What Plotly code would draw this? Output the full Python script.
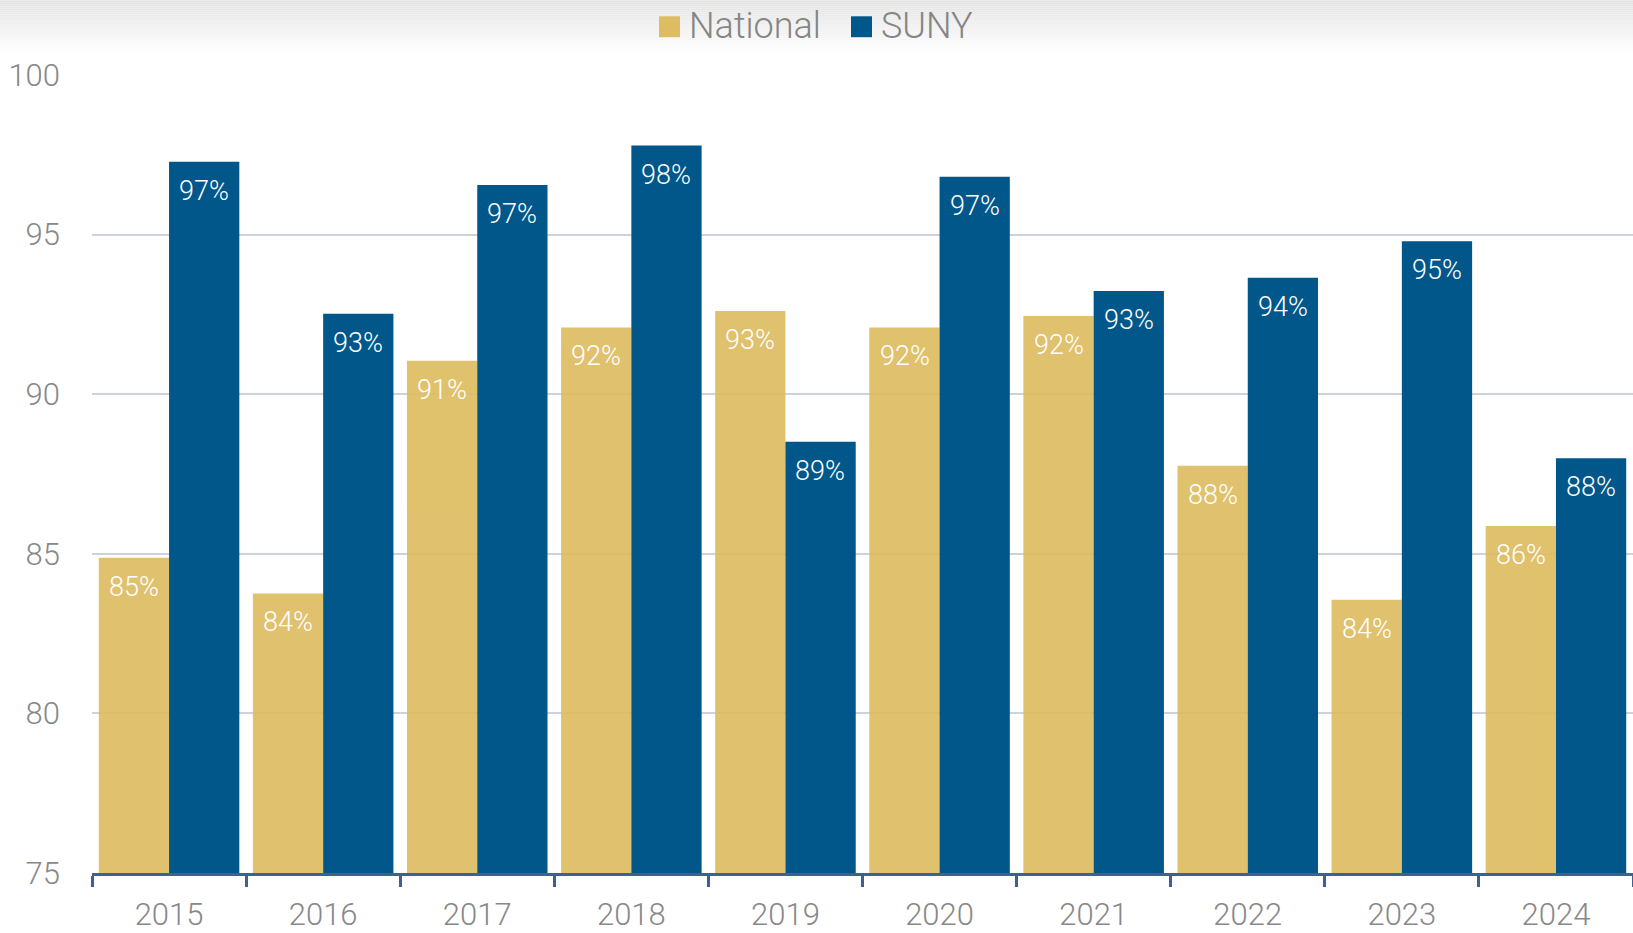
import plotly.graph_objects as go

years = ["2015", "2016", "2017", "2018", "2019", "2020", "2021", "2022", "2023", "2024"]
series_names = ["National", "SUNY"]
national = [84.88, 83.76, 91.05, 92.09, 92.61, 92.09, 92.45, 87.76, 83.56, 85.87]
suny = [97.28, 92.52, 96.55, 97.79, 88.51, 96.81, 93.23, 93.65, 94.79, 87.99]
y_ticks = [75, 80, 85, 90, 95, 100]

GOLD = "#DEBD62"
BLUE = "#01578A"
colors = [GOLD, BLUE]
FONT = "Roboto, Liberation Sans, Arial, sans-serif"
WT = 300
W, H = 1633, 933
L, R, T, B = 92, 0, 75, 56
pw, ph = W - L - R, H - T - B


def px(x):
    return (x - L) / pw


def py(y):
    return (H - B - y) / ph


fig = go.Figure()
for name, vals, col, op in zip(series_names, [national, suny], colors, [0.93, 1.0]):
    fig.add_trace(go.Bar(name=name, x=years, y=vals, marker=dict(color=col, line=dict(width=0)),
                         opacity=op, showlegend=False, hoverinfo="x+y"))

annotations = []
for vals, shift in [(national, -35), (suny, 35)]:
    for i, v in enumerate(vals):
        annotations.append(dict(x=i, y=v, xref="x", yref="y", text=f"{round(v)}%",
                                showarrow=False, xshift=shift, yshift=-29, yanchor="middle",
                                font=dict(family=FONT, size=27, color="white", weight=WT)))

shapes = []
# top gradient band
steps = 28
for i in range(steps):
    y0, y1 = i * 2, i * 2 + 2
    g = int(228 + (255 - 228) * (i / (steps - 1)))
    shapes.append(dict(type="rect", xref="paper", yref="paper", x0=px(0), x1=px(W),
                       y0=py(y1), y1=py(y0), fillcolor=f"rgb({g},{g},{g})",
                       line=dict(width=0), layer="below"))

# custom legend
legend_items = [(series_names[0], colors[0], 659, 689), (series_names[1], colors[1], 851, 881)]
for name, col, sx, tx in legend_items:
    shapes.append(dict(type="rect", xref="paper", yref="paper", x0=px(sx), x1=px(sx + 21),
                       y0=py(37), y1=py(16), fillcolor=col, line=dict(width=0)))
    annotations.append(dict(x=px(tx - 2), y=py(26), xref="paper", yref="paper", text=name,
                            showarrow=False, xanchor="left", yanchor="middle",
                            font=dict(family=FONT, size=36, color="#858585", weight=WT)))

fig.update_layout(
    width=W, height=H,
    margin=dict(l=L, r=R, t=T, b=B),
    plot_bgcolor="rgba(0,0,0,0)", paper_bgcolor="white",
    barmode="group", bargap=0.088, bargroupgap=0,
    annotations=annotations, shapes=shapes,
    font=dict(family=FONT, color="#888888", weight=WT),
)
fig.update_xaxes(type="category", range=[-0.5, len(years) - 0.5], tickson="boundaries",
                 ticks="outside", ticklen=11, tickwidth=3,
                 tickcolor="#3D6194", showline=True, linecolor="#3D6194", linewidth=3,
                 showgrid=False, tickangle=0,
                 tickfont=dict(family=FONT, size=31, color="#888888", weight=WT),
                 ticklabelstandoff=12)
fig.update_yaxes(range=[75, 100], tickvals=y_ticks, showgrid=True, gridcolor="#CDD3DC",
                 gridwidth=1.5, zeroline=False, showline=False, ticks="",
                 tickfont=dict(family=FONT, size=31, color="#888888", weight=WT),
                 ticklabelstandoff=31)

fig.write_html("out.html")
